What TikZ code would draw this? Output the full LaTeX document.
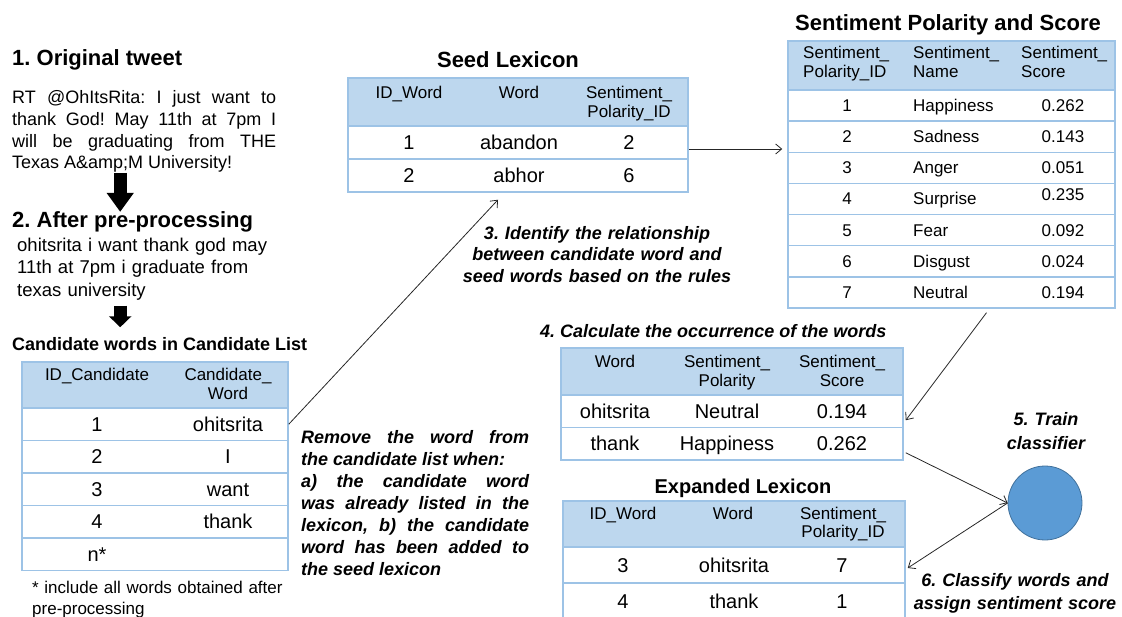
\documentclass[tikz,border=0pt]{standalone}
\usepackage{fontspec}
\setmainfont{Liberation Sans}
\usetikzlibrary{arrows.meta}
\frenchspacing

\definecolor{gridblue}{RGB}{157,195,230}
\definecolor{headblue}{RGB}{189,215,238}
\definecolor{dotblue}{RGB}{91,155,213}
\definecolor{dotedge}{RGB}{65,113,156}

\tikzset{
	bigtitle/.style={font=\bfseries\fontsize{22}{26}\selectfont, inner sep=0pt, anchor=base west},
	remark/.style={font=\bfseries\itshape\fontsize{18}{22}\selectfont, inner sep=0pt},
	headrow/.style={draw=gridblue, line width=1.5pt, fill=headblue, inner sep=0pt},
	datarow/.style={draw=gridblue, line width=1.5pt, fill=white, inner sep=0pt},
	headcell/.style={font=\fontsize{17}{18.5}\selectfont, inner sep=0pt, text width=110pt, align=center, anchor=base},
	datacell/.style={font=\fontsize{20}{24}\selectfont, inner sep=0pt, anchor=base},
	smallcell/.style={font=\fontsize{17}{20}\selectfont, inner sep=0pt, anchor=base},
	flow/.style={draw=black!85, line width=0.8pt, -{Straight Barb[length=6pt,width=10pt]}},
	fatflow/.style={line width=13pt, -{Triangle[length=19pt,width=26pt]}},
	thinfat/.style={line width=13pt, -{Triangle[length=11pt,width=22pt]}},
}

\begin{document}
\begin{tikzpicture}[x=1pt, y=-1pt]
	\useasboundingbox (0,0) rectangle (1122,617);

	% tweet and pre-processing
	\node[bigtitle] (t1) at (12,66) {1. Original tweet};
	\node[inner sep=0pt, anchor=base west, text width=264pt, align=justify, font=\fontsize{18}{21.8}\selectfont] (tweet) at (12,103.5) {RT @OhItsRita: I just want to\linebreak thank God! May 11th at 7pm I\linebreak will be graduating from THE\linebreak Texas A\&amp;M University!};
	\node[bigtitle] (t2) at (12,228) {2. After pre-processing};
	\node[inner sep=0pt, anchor=base west, text width=260pt, align=left, font=\fontsize{18.5}{22.5}\selectfont] (clean) at (17,251.5) {ohitsrita i want thank god may\\11th at 7pm i graduate from\\texas university};
	\node[font=\bfseries\fontsize{18}{22}\selectfont, inner sep=0pt, anchor=base west] (ctitle) at (12,350.5) {Candidate words in Candidate List};
	\draw[fatflow] ([xshift=-24pt]tweet.south) -- ([xshift=-24pt]tweet.south |- t2.north);
	\draw[thinfat, shorten <=5pt, shorten >=10pt] ([xshift=-27pt]clean.south) -- ([xshift=-27pt]clean.south |- ctitle.north);

	% candidate list
	\node[headrow, minimum width=266, minimum height=46] (cand0) at (155,385) {};
	\node[headcell] (cand0-a) at (97,381) {ID\_Candidate};
	\node[headcell] (cand0-b) at (228,381) {Candidate\_\\Word};
	\foreach \k/\a/\b in {1/1/ohitsrita, 2/2/I, 3/3/want, 4/4/thank, 5/n*/{}} {
		\node[datarow, minimum width=266, minimum height=32.5] (cand\k) at (155,{391.75+32.5*\k}) {};
		\node[datacell] (cand\k-a) at (97,{398.75+32.5*\k}) {\a};
		\node[datacell] (cand\k-b) at (228,{398.75+32.5*\k}) {\b};
	}
	\node[inner sep=0pt, anchor=base west, text width=260pt, align=left, font=\fontsize{17}{21}\selectfont] (foot) at (32,593) {* include all words obtained after\\pre-processing};

	% seed lexicon
	\node[font=\bfseries\fontsize{22}{26}\selectfont, inner sep=0pt, anchor=base] (seedtitle) at (508,68) {Seed Lexicon};
	\node[headrow, minimum width=340, minimum height=48] (seed0) at (518,102) {};
	\node[headcell] (seed0-a) at (409,99) {ID\_Word};
	\node[headcell] (seed0-b) at (519,99) {Word};
	\node[headcell] (seed0-c) at (629,99) {Sentiment\_\\Polarity\_ID};
	\foreach \k/\a/\b/\c in {1/1/abandon/2, 2/2/abhor/6} {
		\node[datarow, minimum width=340, minimum height=33] (seed\k) at (518,{109.5+33*\k}) {};
		\node[datacell] (seed\k-a) at (409,{116.5+33*\k}) {\a};
		\node[datacell] (seed\k-b) at (519,{116.5+33*\k}) {\b};
		\node[datacell] (seed\k-c) at (629,{116.5+33*\k}) {\c};
	}

	% sentiment polarity and score
	\node[font=\bfseries\fontsize{22}{26}\selectfont, inner sep=0pt, anchor=base] (senttitle) at (948,31) {Sentiment Polarity and Score};
	\node[headrow, minimum width=327, minimum height=49] (sent0) at (951.5,65.5) {};
	\node[headcell, align=left, anchor=base west] (sent0-a) at (803,59) {Sentiment\_\\Polarity\_ID};
	\node[headcell, align=left, anchor=base west] (sent0-b) at (913,59) {Sentiment\_\\Name};
	\node[headcell, align=left, anchor=base west] (sent0-c) at (1021,59) {Sentiment\_\\Score};
	\foreach \k/\b/\c/\d in {1/Happiness/0.262/0, 2/Sadness/0.143/0, 3/Anger/0.051/0, 4/Surprise/0.235/-4, 5/Fear/0.092/0, 6/Disgust/0.024/0, 7/Neutral/0.194/0} {
		\node[datarow, minimum width=327, minimum height=31.14] (sent\k) at (951.5,{74.43+31.14*\k}) {};
		\node[smallcell] (sent\k-a) at (847,{80.43+31.14*\k}) {\k};
		\node[smallcell, anchor=base west] (sent\k-b) at (913,{80.43+31.14*\k}) {\b};
		\node[smallcell] (sent\k-c) at (1063,{80.43+31.14*\k+\d}) {\c};
	}

	% occurrence
	\node[remark, anchor=base west] (t4) at (540,337.5) {4. Calculate the occurrence of the words};
	\node[headrow, minimum width=342, minimum height=47] (occ0) at (732,371.5) {};
	\node[headcell] (occ0-a) at (615,368) {Word};
	\node[headcell] (occ0-b) at (727,368) {Sentiment\_\\Polarity};
	\node[headcell] (occ0-c) at (842,368) {Sentiment\_\\Score};
	\foreach \k/\a/\b/\c in {1/ohitsrita/Neutral/0.194, 2/thank/Happiness/0.262} {
		\node[datarow, minimum width=342, minimum height=32.5] (occ\k) at (732,{378.75+32.5*\k}) {};
		\node[datacell] (occ\k-a) at (615,{385.75+32.5*\k}) {\a};
		\node[datacell] (occ\k-b) at (727,{385.75+32.5*\k}) {\b};
		\node[datacell] (occ\k-c) at (842,{385.75+32.5*\k}) {\c};
	}

	% expanded lexicon
	\node[font=\bfseries\fontsize{20}{24}\selectfont, inner sep=0pt, anchor=base] (exptitle) at (743,493) {Expanded Lexicon};
	\node[headrow, minimum width=342, minimum height=46] (exp0) at (734,524) {};
	\node[headcell] (exp0-a) at (623,519) {ID\_Word};
	\node[headcell] (exp0-b) at (733,519) {Word};
	\node[headcell] (exp0-c) at (843,519) {Sentiment\_\\Polarity\_ID};
	\foreach \k/\a/\b/\c in {1/3/ohitsrita/7, 2/4/thank/1} {
		\node[datarow, minimum width=342, minimum height=36] (exp\k) at (734,{529+36*\k}) {};
		\node[datacell] (exp\k-a) at (623,{536+36*\k}) {\a};
		\node[datacell] (exp\k-b) at (734,{536+36*\k}) {\b};
		\node[datacell] (exp\k-c) at (842,{536+36*\k}) {\c};
	}

	% classifier and step notes
	\node[circle, minimum size=74, inner sep=0pt, fill=dotblue, draw=dotedge, line width=0.8pt] (clf) at (1045,503) {};
	\node[remark, font=\bfseries\itshape\fontsize{18}{24}\selectfont, text width=120pt, align=center, anchor=base] (t5) at (1046,425.5) {5. Train\\classifier};
	\node[remark, font=\bfseries\itshape\fontsize{18}{23}\selectfont, text width=220pt, align=center, anchor=base] (t6) at (1015,586.5) {6. Classify words and\\assign sentiment score};
	\node[remark, font=\bfseries\itshape\fontsize{18}{21.5}\selectfont, text width=270pt, align=center, anchor=base] (t3) at (597,239.5) {3. Identify the relationship\\between candidate word and\\seed words based on the rules};
	\node[remark, text width=228pt, align=justify, anchor=base west] (rule) at (301,443.5) {Remove the word from\linebreak the candidate list when:\newline a) the candidate word\linebreak was already listed in the\linebreak lexicon, b) the candidate\linebreak word has been added to\linebreak the seed lexicon};

	\draw[flow] (cand1.east) -- ([xshift=-20pt,yshift=-7pt]seed2.south);
	\draw[flow, shorten >=5pt] ([yshift=-6.5pt]seed1.east) -- ([yshift=-6.5pt]seed1.east -| sent2.west);
	\draw[flow] ([xshift=35pt,yshift=-4pt]sent7.south) -- ([xshift=2pt,yshift=8pt]occ1.south east);
	\draw[flow] ([xshift=2pt,yshift=-9pt]occ2.east) -- (clf.west);
	\draw[flow] (clf.west) -- ([xshift=2pt,yshift=-3pt]exp1.east);
\end{tikzpicture}
\end{document}
